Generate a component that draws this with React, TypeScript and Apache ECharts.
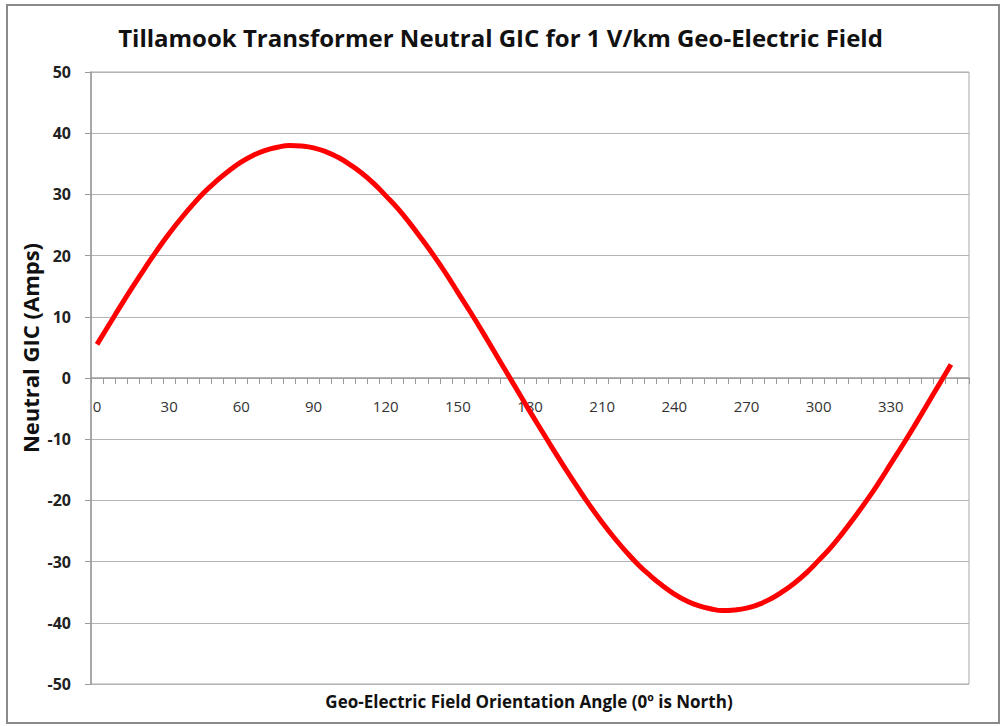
import React, { useEffect, useRef } from "react";
import * as echarts from "echarts";

const angles: string[] = [
  "0","5","10","15","20","25","30","35","40","45","50","55","60","65","70","75","80","85",
  "90","95","100","105","110","115","120","125","130","135","140","145","150","155","160","165","170","175",
  "180","185","190","195","200","205","210","215","220","225","230","235","240","245","250","255","260","265",
  "270","275","280","285","290","295","300","305","310","315","320","325","330","335","340","345","350","355","360",
];

const gicValues: (number | null)[] = [
  5.5, 8.7, 11.9, 15.0, 18.0, 20.9, 23.6, 26.1, 28.4, 30.5, 32.3, 33.9, 35.3, 36.4, 37.2, 37.7, 38.0, 37.9,
  37.6, 37.0, 36.1, 34.9, 33.5, 31.8, 29.8, 27.7, 25.3, 22.7, 20.0, 17.1, 14.0, 10.9, 7.7, 4.4, 1.1, -2.2,
  -5.5, -8.7, -11.9, -15.0, -18.0, -20.9, -23.6, -26.1, -28.4, -30.5, -32.3, -33.9, -35.3, -36.4, -37.2, -37.7, -38.0, -37.9,
  -37.6, -37.0, -36.1, -34.9, -33.5, -31.8, -29.8, -27.7, -25.3, -22.7, -20.0, -17.1, -14.0, -10.9, -7.7, -4.4, -1.1, 2.2, null,
];

const titleText = "Tillamook Transformer Neutral GIC for 1 V/km Geo-Electric Field";
const yName = "Neutral GIC (Amps)";
const xName = "Geo-Electric Field Orientation Angle (0º is North)";

export default function App() {
  const ref = useRef<HTMLDivElement>(null);
  useEffect(() => {
    if (!ref.current) return;
    const chart = echarts.init(ref.current, undefined, { renderer: "svg" });
    chart.setOption({
      animation: false,
      backgroundColor: "#ffffff",
      title: {
        text: titleText,
        left: "center",
        top: 20,
        textStyle: {
          fontFamily: "'Open Sans', sans-serif",
          fontWeight: "bold",
          fontSize: 24,
          color: "#111111",
        },
      },
      grid: { left: 91, right: 32, top: 72, bottom: 42, containLabel: false },
      xAxis: {
        type: "category",
        data: angles,
        boundaryGap: true,
        position: "bottom",
        offset: -306,
        axisLine: { onZero: false, lineStyle: { color: "#9a9a9a", width: 1.5 } },
        axisTick: { show: true, interval: 0, inside: false, length: 6, lineStyle: { color: "#9a9a9a" } },
        axisLabel: {
          interval: (idx: number) => idx % 6 === 0 && idx < 72,
          margin: 20,
          fontFamily: "'Open Sans', sans-serif",
          fontSize: 15,
          color: "#333333",
        },
        splitLine: { show: false },
      },
      yAxis: {
        type: "value",
        min: -50,
        max: 50,
        interval: 10,
        axisLine: { show: true, lineStyle: { color: "#9a9a9a", width: 1.5 } },
        axisTick: { show: true, length: 6, lineStyle: { color: "#9a9a9a" } },
        axisLabel: {
          margin: 20,
          fontFamily: "'Open Sans', sans-serif",
          fontWeight: "bold",
          fontSize: 16,
          color: "#222222",
        },
        splitLine: { show: true, lineStyle: { color: "#b4b4b4", width: 1 } },
      },
      series: [
        {
          type: "line",
          data: gicValues,
          smooth: true,
          showSymbol: false,
          symbol: "none",
          lineStyle: { color: "#ff0000", width: 5 },
          z: 5,
        },
      ],
      graphic: [
        {
          type: "rect",
          shape: { x: 7, y: 5, width: 992, height: 718 },
          style: { fill: "none", stroke: "#8a8a8a", lineWidth: 2 },
          z: 100,
          silent: true,
        },
        {
          type: "rect",
          shape: { x: 91, y: 72, width: 878, height: 612 },
          style: { fill: "none", stroke: "#a8a8a8", lineWidth: 1 },
          z: 0,
          silent: true,
        },
        {
          type: "text",
          x: 30,
          y: 348,
          rotation: Math.PI / 2,
          style: {
            text: yName,
            fontFamily: "'Open Sans', sans-serif",
            fontWeight: "bold",
            fontSize: 22,
            fill: "#111111",
            align: "center",
            verticalAlign: "middle",
          },
        },
        {
          type: "text",
          x: 529,
          y: 701,
          style: {
            text: xName,
            fontFamily: "'Open Sans', sans-serif",
            fontWeight: "bold",
            fontSize: 17,
            fill: "#111111",
            align: "center",
            verticalAlign: "middle",
          },
        },
      ],
    });
    return () => chart.dispose();
  }, []);
  return (
    <div
      ref={ref}
      style={{ position: "fixed", left: 0, top: 0, width: 1001, height: 726 }}
    />
  );
}
